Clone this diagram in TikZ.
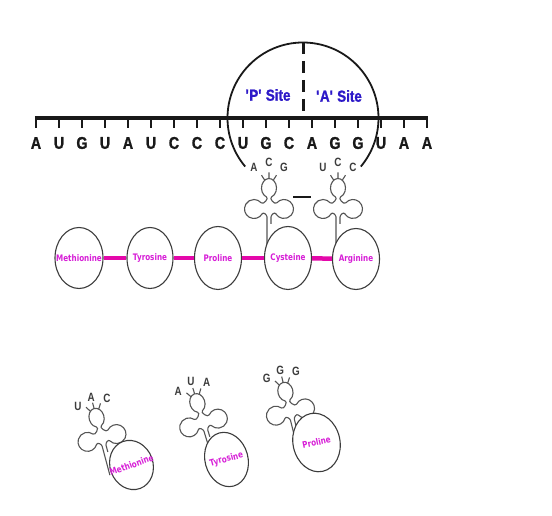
\documentclass[tikz,border=0pt]{standalone}
\usepackage{fontspec}
\setmainfont{Liberation Sans}
\newfontfamily\narrowfont[FakeStretch=0.82]{Liberation Sans}
\newfontfamily\heavyfont[FakeStretch=0.84,FakeBold=1.2]{Liberation Sans}
\newfontfamily\aminofont[FakeStretch=0.8]{DejaVu Sans}
\usetikzlibrary{shapes.geometric}

\definecolor{siteblue}{RGB}{45,25,200}
\definecolor{bondpink}{RGB}{228,8,170}
\definecolor{aatext}{RGB}{215,30,215}
\definecolor{trnagray}{RGB}{85,85,85}
\definecolor{ringgray}{RGB}{60,60,60}
\definecolor{codon}{RGB}{25,25,25}

\tikzset{
  mrna/.style={line width=3.5pt, draw=codon},
  basetick/.style={line width=2.4pt, draw=codon},
  base/.style={font=\heavyfont\bfseries\fontsize{17}{17}\selectfont, text=codon, inner sep=0pt},
  ribo/.style={line width=1.8pt, draw=codon},
  sitediv/.style={line width=3pt, dash pattern=on 12pt off 7pt, draw=codon},
  sitelab/.style={font=\heavyfont\bfseries\fontsize{16}{16}\selectfont, text=siteblue, inner sep=0pt},
  trnaline/.style={line width=1.1pt, draw=trnagray},
  acod/.style={font=\narrowfont\bfseries\fontsize{12}{12}\selectfont, text=ringgray, inner sep=0pt},
  aa/.style={ellipse, draw=ringgray, line width=1.1pt, fill=white, inner sep=0pt,
    font=\aminofont\bfseries\fontsize{9}{9}\selectfont, text=aatext},
  bond/.style={line width=4.5pt, draw=bondpink},
  pep/.style={line width=2pt, draw=codon},
  % cloverleaf transfer RNA: origin at the top of the acceptor stem;
  % arguments: the three anticodon bases, stem length, anticodon lift
  pics/trna/.style n args={5}{code={
    \draw[trnaline] (-2,-#4) -- (-2,-3) to[out=90,in=60] (-6.77,0.25)
      arc[start angle=-30,end angle=-320,radius=9.5]
      to[out=-50,in=-20] (-2.57,17.07)
      arc[start angle=-110,end angle=-430,x radius=7.5,y radius=9.5]
      to[out=200,in=230] (7.72,11.11)
      arc[start angle=140,end angle=-150,radius=9.5]
      to[out=120,in=90] (2,-3) -- (2,-10);
    \draw[trnaline] (0,35.5) -- (0,41.5) (-4.3,33.8) -- (-7.5,38.8) (4.3,33.8) -- (7.5,38.8);
    \node[acod] (-l) at (-15,47+#5) {#1};
    \node[acod] (-m) at (0,52+#5) {#2};
    \node[acod] (-r) at (15,47+#5) {#3};
  }}
}

\begin{document}
\begin{tikzpicture}[x=1pt,y=1pt]
\fill[white] (0,0) rectangle (552,516);
\useasboundingbox (0,0) rectangle (552,516);

% messenger RNA strand with its bases
\coordinate (m0) at (34.8,398);
\coordinate (m1) at (428.2,398);
\draw[mrna] (m0) -- (m1);
\foreach \b [count=\i from 0] in {A,U,G,U,A,U,C,C,C,U,G,C,A,G,G,U,A,A}{
  \draw[basetick] (36+23*\i,399) -- ++(0,-11);
  \node[base] (b\i) at (36+23*\i,373) {\b};
}

% ribosome outline with P and A sites
\coordinate (ribo) at (303,398);
\coordinate (dtop) at (303,474);
\draw[ribo] (ribo) ++(220:75.5) arc[start angle=220,end angle=-40,radius=75.5];
\draw[sitediv] (dtop) -- (ribo);
\node[sitelab] (psite) at (268,421) {\textquotesingle P\textquotesingle\ Site};
\node[sitelab] (asite) at (339,420) {\textquotesingle A\textquotesingle\ Site};

% tRNAs docked in the ribosome
\pic (tp) at (269,302) {trna={A}{C}{G}{34}{0}};
\pic (ta) at (338,302) {trna={U}{C}{C}{31}{0}};
\coordinate (pepL) at (293,319);
\coordinate (pepR) at (311,319);
\draw[pep] (pepL) -- (pepR);

% growing polypeptide chain
\node[aa, minimum width=48pt, minimum height=61pt] (met) at (79,258) {\makebox[0pt]{Methionine}};
\node[aa, minimum width=46pt, minimum height=61pt] (tyr) at (150,258) {\makebox[0pt]{Tyrosine}};
\node[aa, minimum width=47pt, minimum height=63pt] (pro) at (218,258) {\makebox[0pt]{Proline}};
\node[aa, minimum width=47pt, minimum height=63pt] (cys) at (288,258) {\makebox[0pt]{Cysteine}};
\node[aa, minimum width=47pt, minimum height=61pt] (arg) at (356,257) {\makebox[0pt]{Arginine}};
\draw[bond] (met) -- (tyr);
\draw[bond] (tyr) -- (pro);
\draw[bond] (pro) -- (cys);
\draw[bond] (cys) -- (arg);

% free charged tRNAs
\pic[rotate=15] (f1) at (103.3,73.2) {trna={U}{A}{C}{33}{-5}};
\node[aa, rotate=20, minimum width=43pt, minimum height=50pt] (fmet) at (131.5,51) {\makebox[0pt]{Methionine}};
\pic[rotate=17] (f2) at (205,88.2) {trna={A}{U}{A}{28}{-4}};
\node[aa, rotate=15, minimum width=43pt, minimum height=55pt] (ftyr) at (226.5,56.5) {\makebox[0pt]{Tyrosine}};
\pic[rotate=14] (f3) at (291.7,99.1) {trna={G}{G}{G}{26}{-4}};
\node[aa, rotate=12, minimum width=47pt, minimum height=59pt] (fpro) at (316.5,73.5) {\makebox[0pt]{Proline}};
\end{tikzpicture}
\end{document}
